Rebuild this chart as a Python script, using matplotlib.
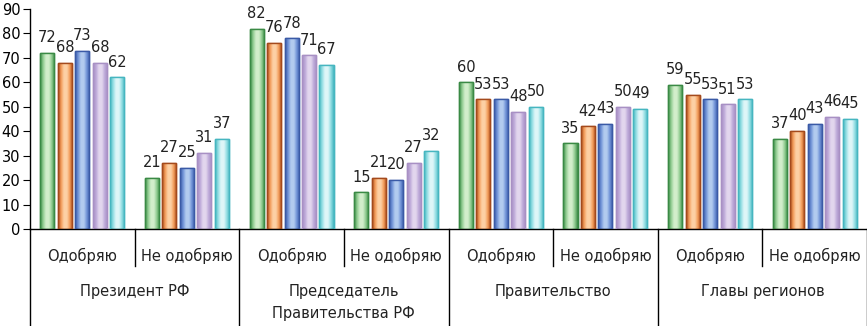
import numpy as np
import matplotlib
matplotlib.use("Agg")
import matplotlib.pyplot as plt
from matplotlib.colors import LinearSegmentedColormap

# данные
categories = ["Президент РФ", "Председатель\nПравительства РФ", "Правительство", "Главы регионов"]
sub_labels = ["Одобряю", "Не одобряю"]

s1 = [72, 21, 82, 15, 60, 35, 59, 37]
s2 = [68, 27, 76, 21, 53, 42, 55, 40]
s3 = [73, 25, 78, 20, 53, 43, 53, 43]
s4 = [68, 31, 71, 27, 48, 50, 51, 46]
s5 = [62, 37, 67, 32, 50, 49, 53, 45]
series = [s1, s2, s3, s4, s5]

# (край, светлая середина, основной)
palette = [
    ("#3a8a45", "#d2eecb", "#8fcb8f"),
    ("#a44a1c", "#fdd0a4", "#f29a58"),
    ("#3a5aa6", "#b2cbef", "#6f92d6"),
    ("#a890c4", "#e2d6ee", "#bca8d8"),
    ("#46b6c0", "#def6f8", "#92dde3"),
]

plt.rcParams["font.family"] = "DejaVu Sans"

fig = plt.figure(figsize=(8.67, 3.26), dpi=100)
ax_h = 220 / 326
ax = fig.add_axes([30 / 867, 1 - 229 / 326, 1 - 30 / 867, ax_h])
px = 1 / 220  # один пиксель в долях высоты осей

x = np.arange(len(s1))
pitch = 0.167
width = 0.134

for i, vals in enumerate(series):
    dark, light, mid = palette[i]
    cmap = LinearSegmentedColormap.from_list(
        f"c{i}", [dark, mid, light, light, mid, dark])
    grad = np.linspace(0, 1, 64).reshape(1, -1)
    pos = x + (i - 2) * pitch
    bars = ax.bar(pos, vals, width, color=mid, edgecolor=dark, linewidth=1.0, zorder=2)
    for b, v in zip(bars, vals):
        bx, bw, bh = b.get_x(), b.get_width(), b.get_height()
        im = ax.imshow(grad, cmap=cmap, aspect="auto",
                       extent=(bx, bx + bw, 0, bh), zorder=2.5)
        im.set_clip_path(b)
        ax.text(bx + bw / 2, bh + 3.2, str(v), ha="center", va="bottom",
                fontsize=10.5, color="#222222", zorder=4)
    # обводка поверх градиента
    ax.bar(pos, vals, width, color="none", edgecolor=dark, linewidth=1.0, zorder=3)

ax.set_xlim(-0.5, 7.5)
ax.set_ylim(0, 90)
ax.set_yticks(range(0, 91, 10))
ax.tick_params(axis="y", labelsize=10.5, length=5, direction="out", pad=2)
ax.set_xticks([])
for sp in ("top", "right"):
    ax.spines[sp].set_visible(False)
ax.spines["left"].set_linewidth(1.0)
ax.spines["bottom"].set_linewidth(1.0)

trans = ax.get_xaxis_transform()
# подписи и разделители
for k in range(8):
    ax.text(k, -27 * px, sub_labels[k % 2], transform=trans, ha="center", va="center",
            fontsize=10.5, color="#222222")
for k in range(1, 8, 2):
    ax.plot([k - 0.5, k - 0.5], [0, -37 * px], transform=trans, color="black",
            lw=1.0, clip_on=False)
for k in range(0, 9, 2):
    ax.plot([k - 0.5, k - 0.5], [0, -100 * px], transform=trans, color="black",
            lw=1.0, clip_on=False)
for j, name in enumerate(categories):
    ax.text(2 * j + 0.5, -55 * px, name, transform=trans, ha="center", va="top",
            fontsize=10.5, color="#222222", linespacing=1.55)

fig.savefig("out.png", dpi=100)
